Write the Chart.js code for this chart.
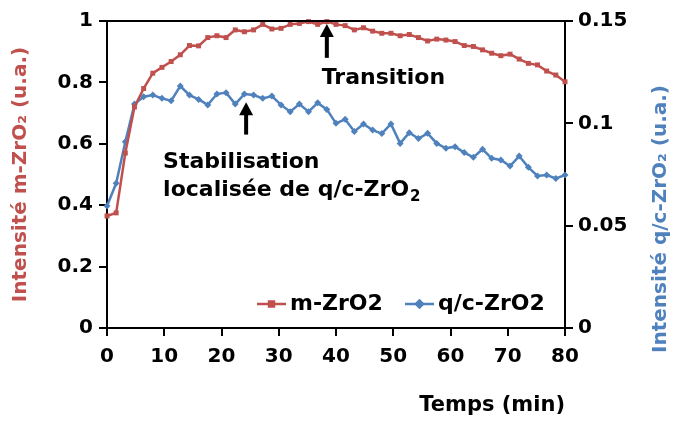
<!DOCTYPE html>
<html>
<head>
<meta charset="utf-8">
<script src="https://cdn.jsdelivr.net/npm/chart.js@4.4.1/dist/chart.umd.min.js"></script>
<style>
  html, body { margin: 0; padding: 0; background: #fff; }
</style>
</head>
<body>
<canvas id="chartZrO2" width="676" height="422"></canvas>
<script>
// Temps (min)
const temps = [0, 1.6, 3.2, 4.8, 6.4, 8, 9.6, 11.2, 12.8, 14.4, 16, 17.6, 19.2, 20.8, 22.4, 24,
  25.6, 27.2, 28.8, 30.4, 32, 33.6, 35.2, 36.8, 38.4, 40, 41.6, 43.2, 44.8, 46.4, 48, 49.6,
  51.2, 52.8, 54.4, 56, 57.6, 59.2, 60.8, 62.4, 64, 65.6, 67.2, 68.8, 70.4, 72, 73.6, 75.2,
  76.8, 78.4, 80];

// Intensité m-ZrO2 (axe gauche)
const mZrO2 = [0.365, 0.375, 0.57, 0.72, 0.78, 0.83, 0.849, 0.868, 0.89, 0.92, 0.919, 0.946,
  0.952, 0.946, 0.971, 0.965, 0.971, 0.989, 0.974, 0.976, 0.989, 0.992, 0.998, 0.989, 0.998,
  0.989, 0.985, 0.971, 0.978, 0.967, 0.96, 0.96, 0.952, 0.956, 0.946, 0.935, 0.941, 0.938,
  0.933, 0.92, 0.917, 0.906, 0.895, 0.887, 0.892, 0.876, 0.862, 0.857, 0.837, 0.824, 0.802];

// Intensité q/c-ZrO2 (axe droit)
const qcZrO2 = [0.0596, 0.0707, 0.091, 0.1094, 0.113, 0.1138, 0.1122, 0.111, 0.1182, 0.1138,
  0.1117, 0.109, 0.1143, 0.115, 0.1094, 0.1143, 0.1138, 0.1122, 0.1133, 0.109, 0.1057, 0.1094,
  0.1057, 0.110, 0.1068, 0.100, 0.102, 0.096, 0.0997, 0.0967, 0.095, 0.0997, 0.0902, 0.0954,
  0.0926, 0.0951, 0.0902, 0.0878, 0.0886, 0.0857, 0.0834, 0.0873, 0.0829, 0.0821, 0.0791,
  0.084, 0.0785, 0.0743, 0.0747, 0.0731, 0.0747];

// Graduations
const xTicks = [0, 10, 20, 30, 40, 50, 60, 70, 80];
const leftTicks = [0, 0.2, 0.4, 0.6, 0.8, 1];
const rightTicks = [0, 0.05, 0.1, 0.15];

const seriesNames = ['m-ZrO2', 'q/c-ZrO2'];

const RED = '#C0504D';
const BLUE = '#4F81BD';
const FONT = "'DejaVu Sans', sans-serif";

function toPoints(xs, ys) {
  return xs.map((t, i) => ({ x: t, y: ys[i] }));
}

function setTicks(values) {
  return function(scale) {
    scale.ticks = values.map(v => ({ value: v }));
  };
}

// format "0.2", "0.15", "1" (sans zéros inutiles)
function plainLabel(value) {
  return String(+Number(value).toFixed(2));
}

// flèche verticale (pointe vers le haut)
function drawArrow(ctx, px, yTail, yTip) {
  ctx.fillStyle = '#000';
  ctx.fillRect(px - 2, yTip + 10, 4, yTail - yTip - 10);
  ctx.beginPath();
  ctx.moveTo(px, yTip);
  ctx.lineTo(px - 7, yTip + 13);
  ctx.lineTo(px + 7, yTip + 13);
  ctx.closePath();
  ctx.fill();
}

// annotations, légende, titre droit et cadre
const decorPlugin = {
  id: 'decor',
  afterDraw(chart) {
    const { ctx, chartArea: a } = chart;
    const x = chart.scales.x;
    const y = chart.scales.y;
    ctx.save();

    // cadre haut
    ctx.strokeStyle = '#000';
    ctx.lineWidth = 2;
    ctx.beginPath();
    ctx.moveTo(a.left, a.top);
    ctx.lineTo(a.right, a.top);
    ctx.stroke();

    // flèches
    drawArrow(ctx, x.getPixelForValue(38.4), y.getPixelForValue(0.88), y.getPixelForValue(0.99));
    drawArrow(ctx, x.getPixelForValue(24.3), y.getPixelForValue(0.63), y.getPixelForValue(0.735));

    // textes
    ctx.fillStyle = '#000';
    ctx.font = 'bold 22px ' + FONT;
    ctx.textBaseline = 'middle';
    ctx.textAlign = 'left';
    ctx.fillText('Transition', x.getPixelForValue(37.5), y.getPixelForValue(0.815));
    const sx = x.getPixelForValue(9.8);
    ctx.fillText('Stabilisation', sx, y.getPixelForValue(0.54));
    const ly = y.getPixelForValue(0.45);
    const part = 'localisée de q/c-ZrO';
    ctx.fillText(part, sx, ly);
    const w = ctx.measureText(part).width;
    ctx.font = 'bold 15px ' + FONT;
    ctx.fillText('2', sx + w + 1, ly + 7);

    // légende
    ctx.font = 'bold 22px ' + FONT;
    const legY = 304;
    const items = [
      { x0: 257, color: RED, style: 'rect', label: seriesNames[0] },
      { x0: 405, color: BLUE, style: 'rectRot', label: seriesNames[1] }
    ];
    items.forEach(it => {
      ctx.strokeStyle = it.color;
      ctx.lineWidth = 2.5;
      ctx.beginPath();
      ctx.moveTo(it.x0, legY);
      ctx.lineTo(it.x0 + 29, legY);
      ctx.stroke();
      ctx.fillStyle = it.color;
      Chart.helpers.drawPoint(ctx, { pointStyle: it.style, radius: 3.5, borderWidth: 1 }, it.x0 + 14.5, legY);
      ctx.fillStyle = '#000';
      ctx.fillText(it.label, it.x0 + 33, legY);
    });

    // titre axe droit (lu de bas en haut)
    ctx.translate(661, 219);
    ctx.rotate(-Math.PI / 2);
    ctx.textAlign = 'center';
    ctx.fillStyle = BLUE;
    ctx.font = 'bold 20px ' + FONT;
    ctx.fillText('Intensité q/c-ZrO₂ (u.a.)', 0, 0);
    ctx.restore();
  }
};

const tickFont = { family: FONT, size: 20, weight: 'bold' };

new Chart(document.getElementById('chartZrO2').getContext('2d'), {
  type: 'line',
  data: {
    datasets: [
      {
        label: seriesNames[0],
        data: toPoints(temps, mZrO2),
        yAxisID: 'y',
        borderColor: RED,
        backgroundColor: RED,
        borderWidth: 2.5,
        pointStyle: 'rect',
        pointRadius: 3.5,
        pointBorderWidth: 0,
        clip: false
      },
      {
        label: seriesNames[1],
        data: toPoints(temps, qcZrO2),
        yAxisID: 'y2',
        borderColor: BLUE,
        backgroundColor: BLUE,
        borderWidth: 2.5,
        pointStyle: 'rectRot',
        pointRadius: 3.5,
        pointBorderWidth: 0,
        clip: false
      }
    ]
  },
  options: {
    responsive: false,
    animation: false,
    layout: { padding: { top: 21, left: 0, right: 0, bottom: 0 } },
    plugins: {
      legend: { display: false },
      tooltip: { enabled: false }
    },
    scales: {
      x: {
        type: 'linear',
        min: 0,
        max: 80,
        afterBuildTicks: setTicks(xTicks),
        afterFit: s => { s.height = 94; },
        border: { color: '#000', width: 2 },
        grid: { drawOnChartArea: false, color: '#000', lineWidth: 2, tickLength: 8 },
        ticks: { font: tickFont, color: '#000', padding: 9, maxRotation: 0, callback: plainLabel },
        title: {
          display: true,
          text: 'Temps (min)',
          align: 'end',
          color: '#000',
          font: { family: FONT, size: 21, weight: 'bold' },
          padding: { top: 6, bottom: 4 }
        }
      },
      y: {
        position: 'left',
        min: 0,
        max: 1,
        afterBuildTicks: setTicks(leftTicks),
        afterFit: s => { s.width = 107; },
        border: { color: '#000', width: 2 },
        grid: { drawOnChartArea: false, color: '#000', lineWidth: 2, tickLength: 8 },
        ticks: { font: tickFont, color: '#000', padding: 6, callback: plainLabel },
        title: {
          display: true,
          text: 'Intensité m-ZrO₂ (u.a.)',
          color: RED,
          font: { family: FONT, size: 20, weight: 'bold' },
          padding: { top: 9, bottom: 4 }
        }
      },
      y2: {
        position: 'right',
        min: 0,
        max: 0.15,
        afterBuildTicks: setTicks(rightTicks),
        afterFit: s => { s.width = 111; },
        border: { color: '#000', width: 2 },
        grid: { drawOnChartArea: false, color: '#000', lineWidth: 2, tickLength: 8 },
        ticks: { font: tickFont, color: '#000', padding: 5, callback: plainLabel }
      }
    }
  },
  plugins: [decorPlugin]
});
</script>
</body>
</html>
